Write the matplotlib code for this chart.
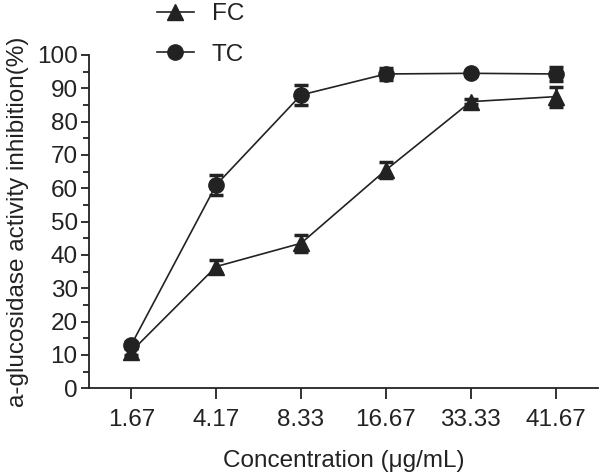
import matplotlib
matplotlib.use("Agg")
import matplotlib.pyplot as plt
from matplotlib.ticker import MultipleLocator
from matplotlib.lines import Line2D
import numpy as np

plt.rcParams['font.family'] = ['Liberation Sans', 'DejaVu Sans']

concentrations = ["1.67", "4.17", "8.33", "16.67", "33.33", "41.67"]
fc_values = [11.0, 36.5, 43.5, 65.5, 86.0, 87.5]
fc_errors = [1.0, 2.0, 2.5, 2.5, 0.8, 3.0]
tc_values = [13.0, 61.0, 88.0, 94.3, 94.5, 94.3]
tc_errors = [1.0, 3.0, 3.0, 1.8, 0.5, 2.0]

FS = 17.5
C = '#222222'
fig = plt.figure(figsize=(6.0, 4.74), dpi=100)
ax = fig.add_axes([0.148, 0.181, 0.849, 0.703])

x = np.arange(len(concentrations))
ax.errorbar(x, fc_values, yerr=fc_errors, color=C, marker='^',
            markersize=11, linewidth=1.2, elinewidth=2.0, capsize=5,
            capthick=2.5, label='FC')
ax.errorbar(x, tc_values, yerr=tc_errors, color=C, marker='o',
            markersize=11, linewidth=1.2, elinewidth=2.0, capsize=5,
            capthick=2.5, label='TC')

ax.set_xlim(-0.5, 5.5)
ax.set_ylim(0, 100)
ax.set_xticks(x)
ax.set_xticklabels(concentrations)
ax.yaxis.set_major_locator(MultipleLocator(10))
ax.yaxis.set_minor_locator(MultipleLocator(5))

for s in ['top', 'right']:
    ax.spines[s].set_visible(False)
for s in ['left', 'bottom']:
    ax.spines[s].set_linewidth(1.3)
    ax.spines[s].set_color(C)

ax.tick_params(axis='both', which='major', labelsize=FS, width=1.3,
               color=C, labelcolor=C)
ax.tick_params(axis='x', length=8, pad=7)
ax.tick_params(axis='y', length=6, pad=2)
ax.tick_params(axis='y', which='minor', length=4, width=1.3, color=C)

ax.set_xlabel('Concentration (\u03bcg/mL)', fontsize=FS, color=C, labelpad=14)
ax.set_ylabel('a-glucosidase activity inhibition(%)', fontsize=FS, color=C, labelpad=6)

handles = [Line2D([], [], color=C, marker='^', markersize=11, linewidth=1.2),
           Line2D([], [], color=C, marker='o', markersize=11, linewidth=1.2)]
leg = fig.legend(handles=handles, labels=['FC', 'TC'], loc='upper left',
                 bbox_to_anchor=(0.262, 0.993), frameon=False, fontsize=FS,
                 handlelength=1.5, labelspacing=0.75, handletextpad=0.75,
                 borderpad=0, borderaxespad=0)
for t in leg.get_texts():
    t.set_color(C)

fig.savefig('out.png', dpi=100)
